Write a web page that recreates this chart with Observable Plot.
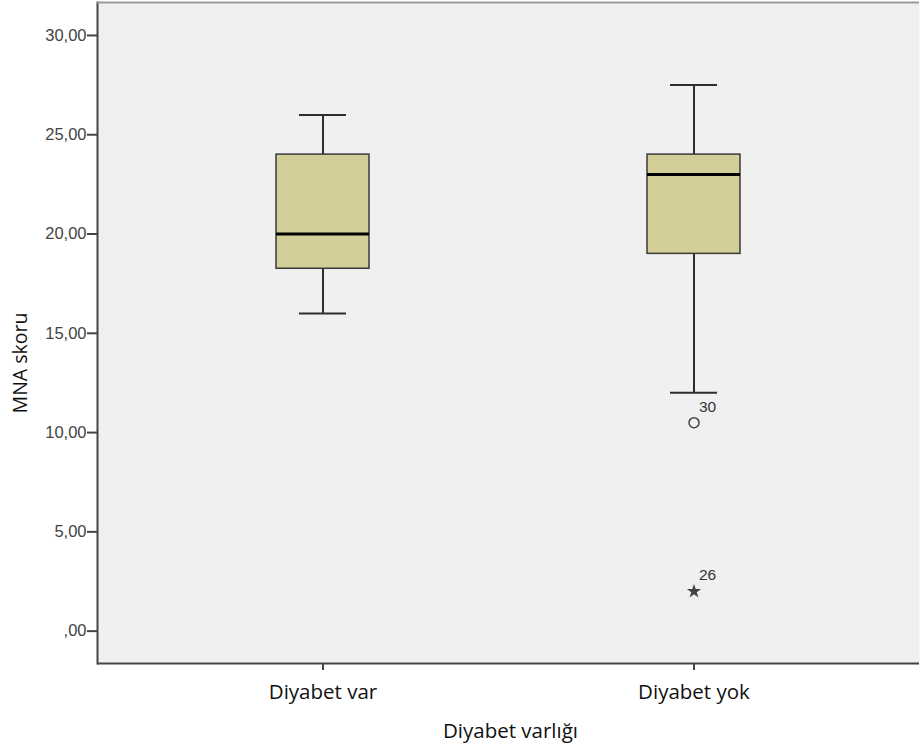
<!DOCTYPE html>
<html>
<head>
<meta charset="utf-8">
<script src="https://cdn.jsdelivr.net/npm/d3@7"></script>
<script src="https://cdn.jsdelivr.net/npm/@observablehq/plot@0.6"></script>
<style>
  html, body { margin: 0; padding: 0; background: #ffffff; }
  #chart svg { display: block; }
</style>
</head>
<body>
<div id="chart"></div>
<script>
// Categories and box statistics
const groups = ["Diyabet var", "Diyabet yok"];
const whiskerLow = [16, 12];
const q1 = [18.25, 19];
const median = [20, 23];
const q3 = [24, 24];
const whiskerHigh = [26, 27.5];

// Outliers
const outlierGroup = ["Diyabet yok", "Diyabet yok"];
const outlierValue = [10.5, 2];
const outlierKind = ["circle", "star"];
const outlierCase = ["30", "26"];

// Axis ticks
const yTicks = [0, 5, 10, 15, 20, 25, 30];
const yTickLabels = [",00", "5,00", "10,00", "15,00", "20,00", "25,00", "30,00"];

const boxes = groups.map((g, i) => ({
  g, lo: whiskerLow[i], q1: q1[i], med: median[i], q3: q3[i], hi: whiskerHigh[i]
}));
const outliers = outlierValue.map((v, i) => ({
  g: outlierGroup[i], v, kind: outlierKind[i], label: outlierCase[i]
}));

const yMin = -1.63, yMax = 31.66;
const dark = "#2e2e2e";
const chart = Plot.plot({
  width: 920,
  height: 753,
  marginLeft: 97,
  marginRight: 1,
  marginTop: 2,
  marginBottom: 90,
  style: { fontFamily: "'Liberation Sans', Arial, sans-serif", fontSize: "16px", color: "#333", background: "#ffffff" },
  x: { type: "band", domain: groups, paddingInner: 0.75, paddingOuter: 0.48 },
  y: { domain: [yMin, yMax] },
  marks: [
    Plot.frame({ fill: "#f0f0f0", stroke: null }),
    // whiskers
    Plot.ruleX(boxes, { x: "g", y1: "lo", y2: "q1", stroke: dark, strokeWidth: 2 }),
    Plot.ruleX(boxes, { x: "g", y1: "q3", y2: "hi", stroke: dark, strokeWidth: 2 }),
    Plot.tickY(boxes, { x: "g", y: "lo", stroke: dark, strokeWidth: 2, insetLeft: 23, insetRight: 23 }),
    Plot.tickY(boxes, { x: "g", y: "hi", stroke: dark, strokeWidth: 2, insetLeft: 23, insetRight: 23 }),
    // boxes
    Plot.barY(boxes, { x: "g", y1: "q1", y2: "q3", fill: "#d3ce97", stroke: "#3a3a3a", strokeWidth: 1.5 }),
    // medians
    Plot.tickY(boxes, { x: "g", y: "med", stroke: "#000", strokeWidth: 3 }),
    // outliers
    Plot.dot(outliers.filter(d => d.kind === "circle"), { x: "g", y: "v", symbol: "circle", r: 5, stroke: "#444", strokeWidth: 1.5, fill: "none" }),
    Plot.dot(outliers.filter(d => d.kind === "star"), { x: "g", y: "v", symbol: "star", r: 4.5, fill: "#444", stroke: "none" }),
    Plot.text(outliers, { x: "g", y: "v", text: "label", dx: 5, dy: -16, textAnchor: "start", fill: "#333", fontSize: 15.5 }),
    // axes
    Plot.axisY({
      ticks: yTicks,
      tickFormat: d => yTickLabels[yTicks.indexOf(d)],
      tickSize: 10,
      tickPadding: 1,
      stroke: "#444",
      strokeWidth: 2,
      fill: "#444",
      fontSize: 16.5,
      label: null
    }),
    Plot.text(["MNA skoru"], {
      frameAnchor: "left", dx: -77, dy: 30, rotate: -90,
      fontSize: 19.5, fontFamily: "'Open Sans', sans-serif", fill: "#111", textAnchor: "middle"
    }),
    Plot.axisX({
      tickSize: 7,
      tickPadding: 14,
      stroke: "#444",
      strokeWidth: 2,
      fill: "#111",
      fontSize: 20.5,
      fontFamily: "'Open Sans', 'Liberation Sans', sans-serif",
      label: null
    }),
    Plot.text(["Diyabet varlığı"], {
      frameAnchor: "bottom", dy: 74, dx: 2,
      fontSize: 20.5, fontFamily: "'Open Sans', sans-serif", fill: "#111", textAnchor: "middle"
    }),
    Plot.frame({ anchor: "left", stroke: "#444", strokeWidth: 2 }),
    Plot.ruleY([yMin], { stroke: "#444", strokeWidth: 2 }),
    Plot.ruleY([yMax], { stroke: "#999", strokeWidth: 2 })
  ]
});
document.getElementById("chart").appendChild(chart);
</script>
</body>
</html>
